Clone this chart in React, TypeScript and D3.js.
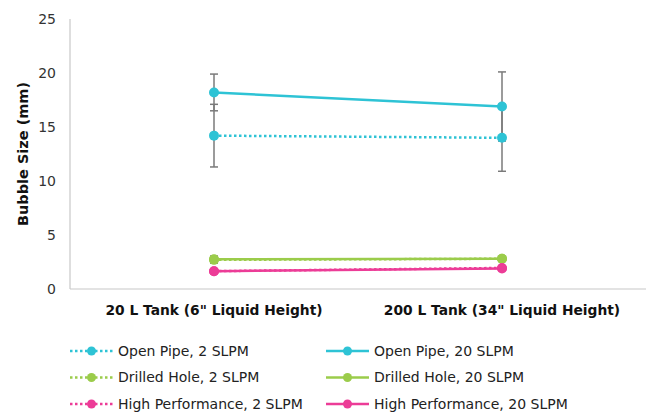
import React from 'react';
import * as d3 from 'd3';

const categories = ['20 L Tank (6" Liquid Height)', '200 L Tank (34" Liquid Height)'];

type Series = { name: string; color: string; dotted: boolean; values: number[]; errors: number[] };

const openPipe2 = [14.2, 14.0];
const openPipe2Err = [2.9, 3.1];
const openPipe20 = [18.2, 16.9];
const openPipe20Err = [1.7, 3.2];
const drilled2 = [2.7, 2.8];
const drilled2Err = [0.3, 0.1];
const drilled20 = [2.75, 2.8];
const drilled20Err = [0.3, 0.1];
const hp2 = [1.65, 1.95];
const hp2Err = [0.1, 0.1];
const hp20 = [1.65, 1.9];
const hp20Err = [0.1, 0.1];

const yTicks = [0, 5, 10, 15, 20, 25];

const CYAN = '#2ec3d5';
const GREEN = '#9bcc4b';
const PINK = '#ec3c97';

const series: Series[] = [
  { name: 'Open Pipe, 2 SLPM', color: CYAN, dotted: true, values: openPipe2, errors: openPipe2Err },
  { name: 'Open Pipe, 20 SLPM', color: CYAN, dotted: false, values: openPipe20, errors: openPipe20Err },
  { name: 'Drilled Hole, 2 SLPM', color: GREEN, dotted: true, values: drilled2, errors: drilled2Err },
  { name: 'Drilled Hole, 20 SLPM', color: GREEN, dotted: false, values: drilled20, errors: drilled20Err },
  { name: 'High Performance, 2 SLPM', color: PINK, dotted: true, values: hp2, errors: hp2Err },
  { name: 'High Performance, 20 SLPM', color: PINK, dotted: false, values: hp20, errors: hp20Err },
];

const W = 647;
const H = 416;
const FONT = 'Verdana, "DejaVu Sans", sans-serif';

export default function App() {
  const margin = { top: 19, right: 1, bottom: 127, left: 70 };
  const innerW = W - margin.left - margin.right;
  const innerH = H - margin.top - margin.bottom;

  const x = d3.scaleBand<string>().domain(categories).range([0, innerW]);
  const cx = (i: number) => (x(categories[i]) as number) + x.bandwidth() / 2;
  const y = d3.scaleLinear().domain([0, 25]).range([innerH, 0]);

  const line = d3
    .line<number>()
    .x((_, i) => cx(i))
    .y(d => y(d));

  const legendRows = [0, 1, 2];

  return (
    <svg width={W} height={H} style={{ position: 'absolute', left: 0, top: 0, fontFamily: FONT }}>
      <rect width={W} height={H} fill="#fff" />
      <g transform={`translate(${margin.left},${margin.top})`}>
        {/* axes */}
        <line x1={0} x2={0} y1={0} y2={innerH} stroke="#c8c8c8" strokeWidth={1.2} />
        <line x1={0} x2={innerW} y1={innerH} y2={innerH} stroke="#c8c8c8" strokeWidth={1.2} />
        {yTicks.map(t => (
          <text key={t} x={-14} y={y(t)} dy="0.35em" textAnchor="end" fontSize={14} fill="#333">
            {t}
          </text>
        ))}
        {categories.map((c, i) => (
          <text key={c} x={cx(i)} y={innerH + 26} textAnchor="middle" fontSize={13.8} fontWeight="bold" fill="#111">
            {c}
          </text>
        ))}

        {/* error bars */}
        {series.map(s =>
          s.values.map((v, i) => (
            <g key={s.name + i} stroke="#7a7a7a" strokeWidth={1.5}>
              <line x1={cx(i)} x2={cx(i)} y1={y(v + s.errors[i])} y2={y(v - s.errors[i])} />
              <line x1={cx(i) - 4} x2={cx(i) + 4} y1={y(v + s.errors[i])} y2={y(v + s.errors[i])} />
              <line x1={cx(i) - 4} x2={cx(i) + 4} y1={y(v - s.errors[i])} y2={y(v - s.errors[i])} />
            </g>
          ))
        )}

        {/* lines */}
        {series.map(s => (
          <g key={s.name}>
            <path
              d={line(s.values) as string}
              fill="none"
              stroke={s.color}
              strokeWidth={2.5}
              strokeDasharray={s.dotted ? '2.5,2.5' : undefined}
            />
            {s.values.map((v, i) => (
              <circle key={i} cx={cx(i)} cy={y(v)} r={5} fill={s.color} />
            ))}
          </g>
        ))}
      </g>

      <text
        transform={`translate(28,${margin.top + innerH / 2}) rotate(-90)`}
        textAnchor="middle"
        fontSize={14.5}
        fontWeight="bold"
        fill="#111"
      >
        Bubble Size (mm)
      </text>

      {/* legend */}
      {legendRows.map(r =>
        [0, 1].map(c => {
          const s = series[r * 2 + c];
          const lx = c === 0 ? 70 : 326;
          const ly = 351 + r * 26.5;
          return (
            <g key={s.name} transform={`translate(${lx},${ly})`}>
              <line
                x1={0}
                x2={43}
                y1={0}
                y2={0}
                stroke={s.color}
                strokeWidth={2.5}
                strokeDasharray={s.dotted ? '2.5,2.5' : undefined}
              />
              <circle cx={21.5} cy={0} r={4.5} fill={s.color} />
              <text x={48} y={0} dy="0.35em" fontSize={14} fill="#222">
                {s.name}
              </text>
            </g>
          );
        })
      )}
    </svg>
  );
}
